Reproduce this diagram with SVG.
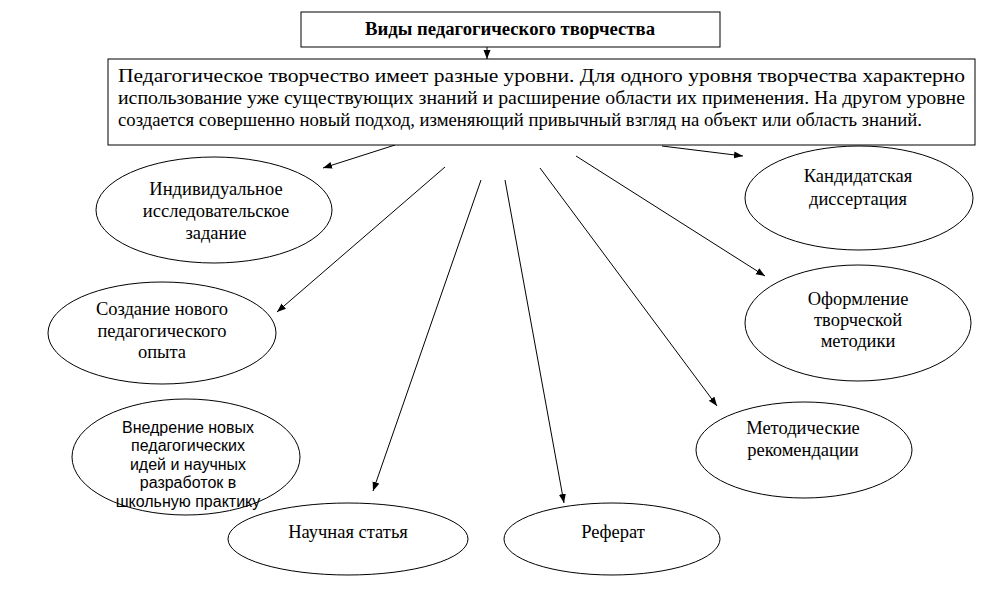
<svg xmlns="http://www.w3.org/2000/svg" width="985" height="589" viewBox="0 0 985 589">
<style>
.box{fill:#fff;stroke:#000;stroke-width:1}
.ell{fill:#fff;stroke:#000;stroke-width:1}
.t{font-family:"Liberation Serif","Times New Roman",serif;font-size:18.5px;fill:#000;text-anchor:middle}
.tb{font-family:"Liberation Serif","Times New Roman",serif;font-size:18px;font-weight:bold;fill:#000;text-anchor:middle}
.tm{font-family:"Liberation Serif","Times New Roman",serif;font-size:18.5px;fill:#000}
.ts{font-family:"Liberation Sans",Arial,sans-serif;font-size:16px;fill:#000;text-anchor:middle}
.c{stroke:#000;stroke-width:1;fill:none;marker-end:url(#ah)}
</style>
<defs>
<marker id="ah" markerUnits="userSpaceOnUse" markerWidth="10" markerHeight="8" refX="9" refY="3.5" orient="auto">
<path d="M0,0 L9,3.5 L0,7 z" fill="#000"/>
</marker>
</defs>
<rect width="985" height="589" fill="#fff"/>
<g id="connectors">
<line class="c" x1="487" y1="47" x2="487" y2="59"/>
<line class="c" x1="395" y1="145" x2="323" y2="168"/>
<line class="c" x1="445" y1="167" x2="277" y2="312"/>
<line class="c" x1="481" y1="180" x2="373" y2="491"/>
<line class="c" x1="505" y1="180" x2="564" y2="503"/>
<line class="c" x1="540" y1="168" x2="717" y2="406"/>
<line class="c" x1="576" y1="156" x2="765" y2="276"/>
<line class="c" x1="662" y1="146" x2="743" y2="156"/>
</g>
<g id="title">
<rect class="box" x="301" y="12" width="419" height="35"/>
<text class="tb" x="510" y="35" textLength="290" lengthAdjust="spacingAndGlyphs">Виды педагогического творчества</text>
</g>
<g id="main">
<rect class="box" x="108" y="59" width="867" height="86"/>
<text class="tm" x="118" y="82" textLength="847" lengthAdjust="spacingAndGlyphs">Педагогическое творчество имеет разные уровни. Для одного уровня творчества характерно</text>
<text class="tm" x="118" y="104" textLength="847" lengthAdjust="spacingAndGlyphs">использование уже существующих знаний и расширение области их применения. На другом уровне</text>
<text class="tm" x="118" y="126" textLength="804" lengthAdjust="spacingAndGlyphs">создается совершенно новый подход, изменяющий привычный взгляд на объект или область знаний.</text>
</g>
<g id="n1">
<ellipse class="ell" cx="214" cy="210" rx="118" ry="53"/>
<text class="t" x="216" y="195">Индивидуальное</text>
<text class="t" x="216" y="217">исследовательское</text>
<text class="t" x="216" y="239">задание</text>
</g>
<g id="n2">
<ellipse class="ell" cx="162" cy="333" rx="114" ry="51"/>
<text class="t" x="162" y="315">Создание нового</text>
<text class="t" x="162" y="337">педагогического</text>
<text class="t" x="162" y="358">опыта</text>
</g>
<g id="n3">
<ellipse class="ell" cx="186" cy="457" rx="114" ry="58"/>
<text class="ts" x="188" y="433">Внедрение новых</text>
<text class="ts" x="188" y="451">педагогических</text>
<text class="ts" x="188" y="470">идей и научных</text>
<text class="ts" x="188" y="488">разработок в</text>
<text class="ts" x="188" y="507">школьную практику</text>
</g>
<g id="n4">
<ellipse class="ell" cx="348" cy="539" rx="120" ry="36"/>
<text class="t" x="348" y="538">Научная статья</text>
</g>
<g id="n5">
<ellipse class="ell" cx="612" cy="539" rx="108" ry="36"/>
<text class="t" x="613" y="538">Реферат</text>
</g>
<g id="n6">
<ellipse class="ell" cx="804" cy="450" rx="108" ry="48"/>
<text class="t" x="803" y="434">Методические</text>
<text class="t" x="803" y="456">рекомендации</text>
</g>
<g id="n7">
<ellipse class="ell" cx="858" cy="323" rx="113" ry="58"/>
<text class="t" x="858" y="305">Оформление</text>
<text class="t" x="858" y="326">творческой</text>
<text class="t" x="858" y="347">методики</text>
</g>
<g id="n8">
<ellipse class="ell" cx="859" cy="198" rx="114" ry="52"/>
<text class="t" x="858" y="182">Кандидатская</text>
<text class="t" x="858" y="205">диссертация</text>
</g>
</svg>
